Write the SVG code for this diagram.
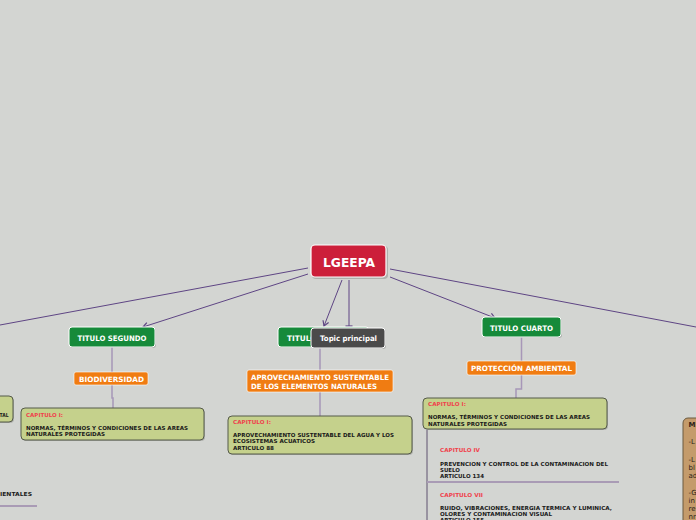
<svg xmlns="http://www.w3.org/2000/svg" width="696" height="520" viewBox="0 0 696 520">
<style>
.bg{fill:#d3d5d2}
.conn{stroke:#5e4584;stroke-width:1;fill:none}
.sub{stroke:#a797b8;stroke-width:1.5;fill:none}
.green{fill:#168a3a;stroke:#ffffff;stroke-width:1}
.orange{fill:#f07c12;stroke:#ffffff;stroke-width:0.6}
.olive{fill:#c5d18c;stroke:#555a4a;stroke-width:1}
.dark{fill:#4a4a4a;stroke:#ffffff;stroke-width:1}
.red{fill:#cc1f3a;stroke:#ffffff;stroke-width:1.2}
.brown{fill:#c49b6b;stroke:#6b5a40;stroke-width:1}
.shadow{fill:#8a8c88;opacity:0.5}
.wt{font-family:"DejaVu Sans",Verdana,sans-serif;font-weight:bold;fill:#ffffff}
.lbl{font-family:"DejaVu Sans",Verdana,sans-serif;font-weight:bold;font-size:5.4px;fill:#1a1a1a}
.cap{font-family:"DejaVu Sans",Verdana,sans-serif;font-weight:bold;font-size:5.4px;fill:#f0424c}
.br{font-family:"DejaVu Sans",Verdana,sans-serif;font-size:7px;fill:#2a2218}
</style>
<defs>
<marker id="arr" markerWidth="8" markerHeight="8" refX="6" refY="4" orient="auto" markerUnits="userSpaceOnUse">
<path d="M1,1 L6,4 L1,7" fill="none" stroke="#5e4584" stroke-width="1.2"/>
</marker>
<marker id="tick" markerWidth="8" markerHeight="8" refX="4" refY="4" orient="auto" markerUnits="userSpaceOnUse">
<path d="M4,0.5 L4,7.5" fill="none" stroke="#5e4584" stroke-width="1.2"/>
</marker>
</defs>
<rect class="bg" x="0" y="0" width="696" height="520"/>

<g id="connectors">
<line class="conn" x1="308" y1="268" x2="0" y2="325"/>
<line class="conn" x1="308" y1="274" x2="143" y2="327" marker-end="url(#arr)"/>
<line class="conn" x1="342" y1="280" x2="324" y2="326" marker-end="url(#arr)"/>
<line class="conn" x1="349" y1="280" x2="349" y2="326" marker-end="url(#tick)"/>
<line class="conn" x1="390" y1="277" x2="495" y2="318" marker-end="url(#arr)"/>
<line class="conn" x1="390" y1="269" x2="696" y2="327"/>
<path class="sub" d="M112,347 V372 M112,385 V398 H113 V408"/>
<path class="sub" d="M320,348 V370 M320,392 V416"/>
<path class="sub" d="M521.5,337 V361 M521.5,375 V389 H516 V398"/>
<line x1="427" y1="430" x2="427" y2="520" stroke="#5f5270" stroke-width="1"/>
<line x1="427" y1="482" x2="619" y2="482" stroke="#a99bb5" stroke-width="2"/>
<line x1="0" y1="506" x2="37" y2="506" stroke="#a99bb5" stroke-width="2"/>
</g>

<g id="lgeepa">
<rect class="shadow" x="312" y="246" width="76" height="33" rx="4"/>
<rect class="red" x="311" y="245" width="75" height="32" rx="4"/>
<text class="wt" x="349" y="266.5" font-size="12" text-anchor="middle" textLength="52" lengthAdjust="spacingAndGlyphs">LGEEPA</text>
</g>

<g id="titulo-segundo">
<rect class="shadow" x="70" y="328" width="86" height="20" rx="3"/>
<rect class="green" x="69" y="327" width="86" height="20" rx="3"/>
<text class="wt" x="112" y="340.5" font-size="7.5" text-anchor="middle" textLength="69" lengthAdjust="spacingAndGlyphs">TITULO SEGUNDO</text>
</g>

<g id="biodiversidad">
<rect class="orange" x="74" y="372" width="74" height="13" rx="2"/>
<text class="wt" x="111.5" y="381.5" font-size="7.3" text-anchor="middle" textLength="65" lengthAdjust="spacingAndGlyphs">BIODIVERSIDAD</text>
</g>

<g id="cap1-left">
<rect class="shadow" x="22" y="409" width="183" height="32" rx="4"/>
<rect class="olive" x="21" y="408" width="183" height="32" rx="4"/>
<text class="cap" x="26" y="417" textLength="37" lengthAdjust="spacingAndGlyphs">CAPITULO I:</text>
<text class="lbl" x="26" y="430" textLength="162" lengthAdjust="spacingAndGlyphs">NORMAS, TÉRMINOS Y CONDICIONES DE LAS AREAS</text>
<text class="lbl" x="26" y="436" textLength="79" lengthAdjust="spacingAndGlyphs">NATURALES PROTEGIDAS</text>
</g>

<g id="left-node">
<rect class="shadow" x="-99" y="397" width="113" height="26" rx="4"/>
<rect class="olive" x="-100" y="396" width="113" height="26" rx="4"/>
<text class="lbl" x="8.5" y="417" text-anchor="end" textLength="9" lengthAdjust="spacingAndGlyphs">TAL</text>
</g>

<g id="left-text">
<text class="lbl" x="32" y="495.5" text-anchor="end" textLength="32" lengthAdjust="spacingAndGlyphs">IENTALES</text>
</g>

<g id="titulo-tercero">
<rect class="shadow" x="279" y="328" width="91" height="20" rx="3"/>
<rect class="green" x="278" y="327" width="91" height="20" rx="3"/>
<text class="wt" x="287" y="340.5" font-size="7.5" textLength="70" lengthAdjust="spacingAndGlyphs">TITULO TERCERO</text>
</g>

<g id="topic-principal">
<rect class="shadow" x="312" y="329" width="74" height="20" rx="3"/>
<rect class="dark" x="311" y="328" width="74" height="20" rx="3"/>
<text class="wt" x="348.5" y="340.8" font-size="7.5" text-anchor="middle" textLength="57" lengthAdjust="spacingAndGlyphs">Topic principal</text>
</g>

<g id="aprovechamiento">
<rect class="orange" x="247" y="370" width="146" height="22" rx="2"/>
<text class="wt" x="251" y="379.5" font-size="7.3" textLength="138" lengthAdjust="spacingAndGlyphs">APROVECHAMIENTO SUSTENTABLE</text>
<text class="wt" x="251" y="388.5" font-size="7.3" textLength="126" lengthAdjust="spacingAndGlyphs">DE LOS ELEMENTOS NATURALES</text>
</g>

<g id="cap1-center">
<rect class="shadow" x="229" y="417" width="184" height="38" rx="4"/>
<rect class="olive" x="228" y="416" width="184" height="38" rx="4"/>
<text class="cap" x="233" y="423.5" textLength="38" lengthAdjust="spacingAndGlyphs">CAPITULO I:</text>
<text class="lbl" x="233" y="437" textLength="161" lengthAdjust="spacingAndGlyphs">APROVECHAMIENTO SUSTENTABLE DEL AGUA Y LOS</text>
<text class="lbl" x="233" y="443" textLength="82" lengthAdjust="spacingAndGlyphs">ECOSISTEMAS ACUATICOS</text>
<text class="lbl" x="233" y="450" textLength="41" lengthAdjust="spacingAndGlyphs">ARTICULO 88</text>
</g>

<g id="titulo-cuarto">
<rect class="shadow" x="483" y="318" width="79" height="20" rx="3"/>
<rect class="green" x="482" y="317" width="79" height="20" rx="3"/>
<text class="wt" x="521.5" y="330.5" font-size="7.5" text-anchor="middle" textLength="63" lengthAdjust="spacingAndGlyphs">TITULO CUARTO</text>
</g>

<g id="proteccion">
<rect class="orange" x="467" y="361" width="109" height="14" rx="2"/>
<text class="wt" x="521.5" y="371" font-size="7.3" text-anchor="middle" textLength="101" lengthAdjust="spacingAndGlyphs">PROTECCIÓN AMBIENTAL</text>
</g>

<g id="cap1-right">
<rect class="shadow" x="424" y="399" width="184" height="31" rx="4"/>
<rect class="olive" x="423" y="398" width="184" height="31" rx="4"/>
<text class="cap" x="428" y="406" textLength="38" lengthAdjust="spacingAndGlyphs">CAPITULO I:</text>
<text class="lbl" x="428" y="419" textLength="162" lengthAdjust="spacingAndGlyphs">NORMAS, TÉRMINOS Y CONDICIONES DE LAS AREAS</text>
<text class="lbl" x="428" y="425.5" textLength="79" lengthAdjust="spacingAndGlyphs">NATURALES PROTEGIDAS</text>
</g>

<g id="cap4">
<text class="cap" x="440" y="452" textLength="40" lengthAdjust="spacingAndGlyphs">CAPITULO IV</text>
<text class="lbl" x="440" y="465.5" textLength="168" lengthAdjust="spacingAndGlyphs">PREVENCION Y CONTROL DE LA CONTAMINACION DEL</text>
<text class="lbl" x="440" y="471.5" textLength="20" lengthAdjust="spacingAndGlyphs">SUELO</text>
<text class="lbl" x="440" y="477.5" textLength="44" lengthAdjust="spacingAndGlyphs">ARTICULO 134</text>
</g>

<g id="cap7">
<text class="cap" x="440" y="497" textLength="43" lengthAdjust="spacingAndGlyphs">CAPITULO VII</text>
<text class="lbl" x="440" y="510" textLength="172" lengthAdjust="spacingAndGlyphs">RUIDO, VIBRACIONES, ENERGIA TERMICA Y LUMINICA,</text>
<text class="lbl" x="440" y="516" textLength="112" lengthAdjust="spacingAndGlyphs">OLORES Y CONTAMINACION VISUAL</text>
<text class="lbl" x="440" y="522" textLength="44" lengthAdjust="spacingAndGlyphs">ARTICULO 155</text>
</g>

<g id="right-node">
<rect class="brown" x="683" y="418" width="100" height="200" rx="5"/>
<text class="br" x="688.5" y="427" font-weight="bold" fill="#111">MI</text>
<text class="br" x="688.5" y="444">-L</text>
<text class="br" x="688.5" y="462">-L</text>
<text class="br" x="688.5" y="470">bl</text>
<text class="br" x="688.5" y="478">ad</text>
<text class="br" x="688.5" y="495">-G</text>
<text class="br" x="688.5" y="503">in</text>
<text class="br" x="688.5" y="511">re</text>
<text class="br" x="688.5" y="519">nr</text>
</g>
</svg>
